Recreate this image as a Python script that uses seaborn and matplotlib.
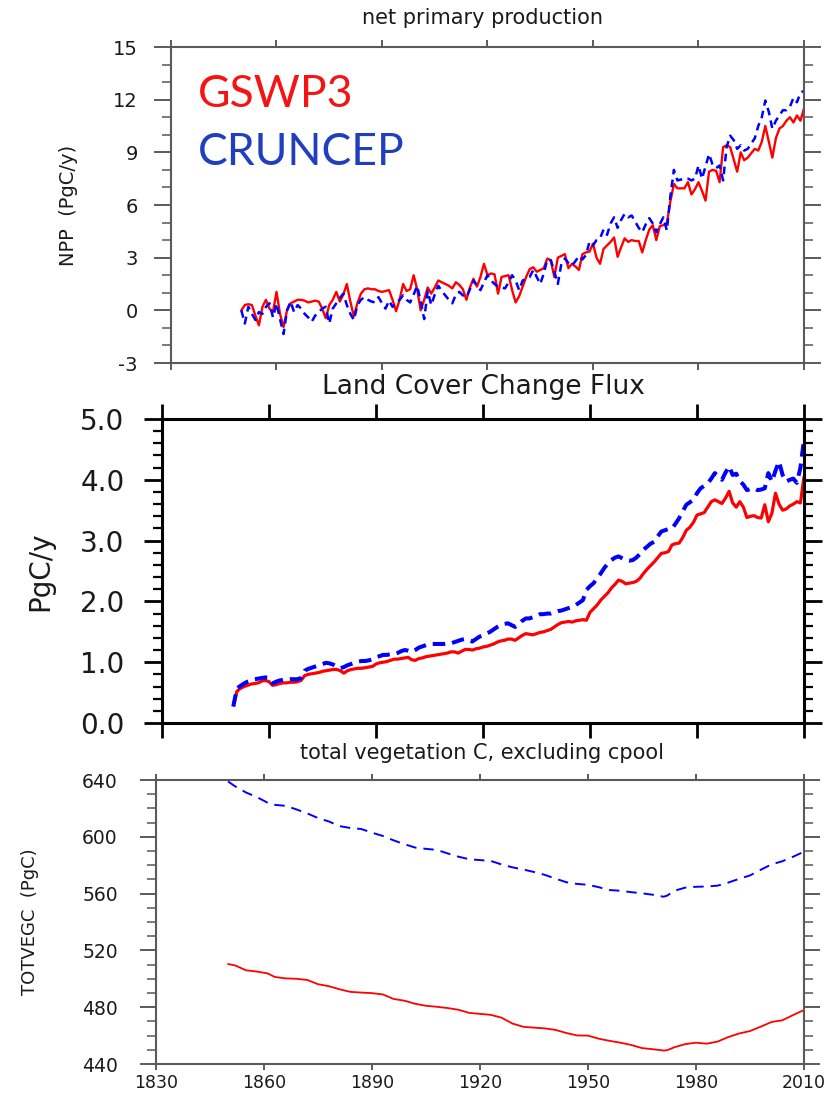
import matplotlib
matplotlib.use("Agg")
import matplotlib.pyplot as plt
from matplotlib.ticker import MultipleLocator, FormatStrFormatter
import pandas as pd
import seaborn as sns

# ---------------------------------------------------------------- data
years = list(range(1850, 2011))

# net primary production anomaly (PgC/y), annual 1850-2010
npp_gswp3 = [
    0.0, 0.3, 0.35, 0.3, -0.3, -0.85, 0.2, 0.6, 0.1, -0.1,
    1.05, -0.2, -0.95, 0.0, 0.4, 0.5, 0.6, 0.6, 0.55, 0.45,
    0.5, 0.55, 0.5, 0.1, -0.45, 0.3, 0.6, 1.05, 0.5, 0.9,
    1.5, 0.5, -0.35, 0.4, 0.95, 1.2, 1.25, 1.2, 1.2, 1.1,
    1.05, 1.1, 1.15, 0.6, -0.05, 0.6, 1.5, 1.1, 1.2, 2.0,
    1.2, 0.0, 0.6, 1.3, 0.95, 1.3, 1.7, 1.6, 1.5, 1.4,
    1.25, 1.6, 1.45, 1.2, 0.6, 1.3, 1.8, 1.35, 1.9, 2.65,
    2.0, 2.1, 2.05, 0.95, 1.9, 1.95, 2.0, 1.15, 0.45, 0.8,
    1.35, 1.9, 2.35, 2.45, 2.2, 2.3, 2.4, 2.95, 2.85, 1.9,
    3.0, 3.1, 3.2, 2.4, 2.65, 2.5, 2.3, 3.2, 3.3, 3.35,
    3.8, 3.0, 2.65, 3.5, 3.7, 3.9, 4.15, 3.05, 3.6, 4.1,
    3.9, 4.0, 3.95, 3.95, 3.3, 4.0, 4.6, 4.85, 4.0, 4.8,
    4.85, 4.95, 6.2, 7.2, 6.95, 6.95, 6.95, 7.3, 6.6, 6.9,
    7.3, 6.8, 6.25, 7.9, 8.0, 7.95, 7.3, 9.3, 9.4, 9.3,
    8.6, 7.9, 9.0, 8.55, 8.7, 8.95, 9.2, 9.1, 9.6, 10.5,
    9.6, 8.7, 9.8, 10.35, 10.5, 10.8, 11.0, 10.7, 11.1, 10.8,
    11.5,
]
npp_cruncep = [
    0.0, -0.75, 0.2, -0.2, -0.55, -0.1, -0.2, 0.2, 0.4, -0.4,
    0.4, -0.5, -1.35, 0.0, 0.5, -0.1, 0.3, 0.1, -0.2, -0.4,
    -0.65, -0.3, -0.1, 0.1, 0.2, -0.75, 0.1, 0.4, 0.7, 0.95,
    0.3, -0.2, -0.55, 0.3, 0.6, 0.75, 0.6, 0.5, 0.45, 0.75,
    0.4, 0.1, 0.55, 0.2, 0.45, 0.6, 0.85, 0.6, 0.45, 0.9,
    1.4, 0.5, -0.5, 1.1, 0.3, 0.9, 1.4, 1.1, 0.85, 0.6,
    0.4, 0.9, 1.05, 0.85, 0.75, 1.2, 1.7, 1.4, 1.15, 1.6,
    2.0, 1.7, 1.5, 1.35, 1.3, 1.25, 1.6, 2.0, 1.7, 1.15,
    1.7, 1.8, 1.9, 2.3, 1.9, 1.5, 2.1, 2.9, 2.85, 2.2,
    1.5, 2.65, 2.95, 2.7, 2.55, 2.8, 3.1, 2.9, 3.15, 3.9,
    3.7, 4.0, 4.1, 4.6, 4.3, 4.95, 5.3, 4.7, 5.15, 5.5,
    5.3, 5.4, 5.05, 4.7, 4.45, 4.9, 5.25, 4.95, 4.45, 4.9,
    5.3, 4.55, 6.5, 8.0, 7.4, 7.45, 7.5, 7.5, 7.4, 7.5,
    8.25, 7.5, 8.2, 8.9, 8.3, 8.1, 8.25, 7.4, 9.3, 9.95,
    9.7, 9.2, 9.4, 9.1, 9.2, 9.5, 9.8, 10.5, 11.0, 11.95,
    11.3, 10.35, 10.8, 11.1, 11.4, 11.4, 11.6, 12.1, 11.85, 12.4,
    12.5,
]

# land cover change flux (PgC/y), annual 1850-2010
lcc_gswp3 = [
    0.30, 0.52, 0.57, 0.60, 0.62, 0.64, 0.65, 0.66, 0.69, 0.70,
    0.68, 0.62, 0.63, 0.65, 0.66, 0.66, 0.67, 0.67, 0.68, 0.70,
    0.78, 0.80, 0.81, 0.82, 0.83, 0.85, 0.86, 0.87, 0.88, 0.88,
    0.86, 0.82, 0.86, 0.88, 0.89, 0.90, 0.90, 0.91, 0.92, 0.93,
    0.97, 0.99, 1.00, 1.01, 1.03, 1.05, 1.05, 1.06, 1.07, 1.08,
    1.04, 1.03, 1.06, 1.07, 1.09, 1.10, 1.11, 1.12, 1.13, 1.14,
    1.15, 1.17, 1.17, 1.15, 1.18, 1.21, 1.21, 1.20, 1.22, 1.23,
    1.25, 1.26, 1.28, 1.30, 1.33, 1.35, 1.36, 1.38, 1.38, 1.36,
    1.40, 1.44, 1.47, 1.46, 1.45, 1.47, 1.49, 1.50, 1.52, 1.54,
    1.58, 1.62, 1.65, 1.66, 1.67, 1.66, 1.68, 1.69, 1.70, 1.69,
    1.82, 1.88, 1.94, 2.02, 2.08, 2.14, 2.22, 2.28, 2.35, 2.33,
    2.29, 2.30, 2.31, 2.33, 2.38, 2.46, 2.53, 2.59, 2.65, 2.72,
    2.79, 2.80, 2.82, 2.93, 2.95, 2.96, 3.05, 3.17, 3.22, 3.30,
    3.42, 3.44, 3.46, 3.55, 3.64, 3.67, 3.64, 3.61, 3.70, 3.81,
    3.62, 3.55, 3.64, 3.55, 3.38, 3.40, 3.41, 3.38, 3.37, 3.59,
    3.31, 3.45, 3.78, 3.60, 3.50, 3.52, 3.57, 3.60, 3.64, 3.62,
    4.05,
]
lcc_cruncep = [
    0.27, 0.57, 0.61, 0.65, 0.68, 0.70, 0.72, 0.73, 0.74, 0.75,
    0.74, 0.65, 0.68, 0.70, 0.71, 0.71, 0.72, 0.72, 0.72, 0.74,
    0.86, 0.89, 0.91, 0.93, 0.95, 0.97, 0.99, 0.98, 0.96, 0.93,
    0.90, 0.92, 0.95, 0.97, 0.99, 1.01, 1.02, 1.02, 1.03, 1.05,
    1.08, 1.10, 1.12, 1.12, 1.13, 1.13, 1.15, 1.18, 1.20, 1.19,
    1.17, 1.20, 1.24, 1.26, 1.28, 1.30, 1.30, 1.30, 1.30, 1.30,
    1.31, 1.31, 1.33, 1.35, 1.37, 1.38, 1.36, 1.34, 1.38, 1.42,
    1.44, 1.47, 1.50, 1.54, 1.58, 1.61, 1.63, 1.64, 1.61, 1.58,
    1.62, 1.68, 1.72, 1.72, 1.74, 1.76, 1.79, 1.79, 1.80, 1.80,
    1.82, 1.84, 1.85, 1.87, 1.89, 1.91, 1.94, 1.98, 2.02, 2.19,
    2.25, 2.30, 2.38, 2.46, 2.55, 2.62, 2.68, 2.72, 2.74, 2.71,
    2.68, 2.67, 2.68, 2.72, 2.78, 2.85, 2.90, 2.95, 2.98, 3.07,
    3.15, 3.17, 3.19, 3.20, 3.28, 3.37, 3.48, 3.59, 3.63, 3.67,
    3.78, 3.86, 3.90, 3.94, 4.02, 4.11, 4.05, 4.00, 4.12, 4.22,
    4.08, 4.10, 3.98, 3.92, 3.83, 3.85, 3.86, 3.83, 3.84, 3.86,
    4.11, 3.97, 4.15, 4.30, 4.08, 3.97, 4.00, 4.02, 3.95, 4.20,
    4.66,
]

# total vegetation carbon (PgC)
vegc_years = [
    1850, 1852, 1855, 1858, 1861, 1863, 1866, 1869, 1872, 1875,
    1878, 1881, 1884, 1887, 1890, 1893, 1896, 1899, 1902, 1905,
    1908, 1911, 1914, 1917, 1920, 1923, 1926, 1929, 1932, 1935,
    1938, 1941, 1944, 1947, 1950, 1953, 1956, 1959, 1962, 1965,
    1968, 1971, 1972, 1974, 1977, 1980, 1983, 1986, 1989, 1992,
    1995, 1998, 2001, 2004, 2007, 2010,
]
vegc_gswp3 = [
    510.4, 509.4, 506.0, 505.1, 503.8, 501.3, 500.3, 500.0, 499.2, 496.2,
    494.8, 492.6, 490.8, 490.3, 489.9, 489.0, 485.8, 484.6, 482.4, 481.0,
    480.3, 479.4, 478.2, 476.0, 475.3, 474.6, 472.6, 468.5, 466.2, 465.6,
    465.1, 464.0, 461.8, 460.1, 460.0, 457.8, 456.3, 455.0, 453.4, 451.2,
    450.4, 449.5, 449.7, 451.8, 454.0, 455.0, 454.3, 455.8, 459.0, 461.5,
    463.2, 466.3, 469.6, 470.8, 474.5, 478.0,
]
vegc_cruncep = [
    639.0, 635.5, 631.2, 628.0, 624.0, 622.5, 621.8, 619.3, 616.5, 613.2,
    610.8, 607.5, 606.2, 605.5, 602.9, 600.6, 597.5, 594.8, 592.4, 591.5,
    590.8, 588.3, 586.0, 584.2, 583.6, 583.0, 580.5, 578.5, 577.0, 575.2,
    573.2, 570.5, 568.0, 566.8, 566.2, 564.5, 562.5, 562.0, 561.0, 560.2,
    559.2, 557.8, 558.6, 562.0, 564.2, 564.8, 565.0, 565.6, 567.8, 570.4,
    572.8, 576.8, 580.6, 582.8, 586.0, 589.5,
]

x_ticks = [1830, 1860, 1890, 1920, 1950, 1980, 2010]
series_names = ["GSWP3", "CRUNCEP"]

npp = pd.DataFrame({"year": years, "GSWP3": npp_gswp3, "CRUNCEP": npp_cruncep})
lcc = pd.DataFrame({"year": years, "GSWP3": lcc_gswp3, "CRUNCEP": lcc_cruncep})
vegc = pd.DataFrame({"year": vegc_years, "GSWP3": vegc_gswp3, "CRUNCEP": vegc_cruncep})

# ---------------------------------------------------------------- style
sns.set_theme(style="ticks")
plt.rcParams["font.family"] = ["DejaVu Sans"]
plt.rcParams["axes.unicode_minus"] = False
plt.rcParams["lines.scale_dashes"] = False

RED = "#ff0000"
BLUE = "#0000ff"
TXT = "#1a1a1a"

W, H = 840, 1096
fig = plt.figure(figsize=(W / 100, H / 100), dpi=100)
fig.patch.set_facecolor("white")


def panel(left, top, right, bottom):
    return fig.add_axes([left / W, 1 - bottom / H, (right - left) / W, (bottom - top) / H])


def frame(ax, color, spine_w, xlen, ylen, yminor, tick_w, size, ypad, xpad=5):
    ax.set_facecolor("white")
    for s in ax.spines.values():
        s.set_visible(True)
        s.set_color(color)
        s.set_linewidth(spine_w)
    ax.set_xticks(x_ticks)
    ax.tick_params(axis="x", which="major", direction="out", top=True, bottom=True,
                   length=xlen, width=tick_w, color=color, labelsize=size,
                   labelcolor=TXT, pad=xpad)
    ax.tick_params(axis="x", which="minor", top=False, bottom=False)
    ax.tick_params(axis="y", which="major", direction="out", left=True, right=True,
                   length=ylen, width=tick_w, color=color, labelsize=size,
                   labelcolor=TXT, pad=ypad)
    ax.tick_params(axis="y", which="minor", direction="out", left=True, right=True,
                   length=yminor, width=tick_w * 0.8, color=color)
    ax.set_xlim(1830, 2010)
    ax.set_xlabel("")


def draw(ax, df, lw_red, lw_blue, dash):
    sns.lineplot(data=df, x="year", y=series_names[0], ax=ax, color=RED,
                 lw=lw_red, errorbar=None)
    sns.lineplot(data=df, x="year", y=series_names[1], ax=ax, color=BLUE,
                 lw=lw_blue, linestyle=(0, dash), errorbar=None)


# ---------------------------------------------------------------- NPP
ax1 = panel(171, 47, 804, 363)
draw(ax1, npp, 1.7, 1.8, (5.5, 3.8))
frame(ax1, "#5a5a5a", 1.5, 5, 12, 6.5, 1.4, 14, 12)
ax1.set_ylim(-3, 15)
ax1.yaxis.set_major_locator(MultipleLocator(3))
ax1.yaxis.set_minor_locator(MultipleLocator(1))
ax1.tick_params(axis="x", labelbottom=False)
ax1.set_ylabel("NPP  (PgC/y)", fontsize=14, color=TXT, ha="center", va="center")
ax1.yaxis.set_label_coords(-0.1627, 0.5)
fig.text(483 / W, 1 - 24 / H, "net primary production", ha="center", va="baseline",
         fontsize=15, color=TXT)
ax1.text(0.043, 0.811, series_names[0], transform=ax1.transAxes, family="Lato",
         fontsize=32, color="#f51414", ha="left", va="baseline")
ax1.text(0.043, 0.627, series_names[1], transform=ax1.transAxes, family="Lato",
         fontsize=32, color="#1f3fbf", ha="left", va="baseline")

# ---------------------------------------------------------------- land cover change
ax2 = panel(162, 419, 804, 723)
draw(ax2, lcc, 2.3, 2.9, (9.0, 5.0))
frame(ax2, "black", 2.2, 11, 13, 6.5, 2.0, 20, 14)
ax2.set_ylim(0, 5)
ax2.yaxis.set_major_locator(MultipleLocator(1))
ax2.yaxis.set_minor_locator(MultipleLocator(0.2))
ax2.yaxis.set_major_formatter(FormatStrFormatter("%.1f"))
ax2.tick_params(axis="x", labelbottom=False)
ax2.set_ylabel("PgC/y", fontsize=20, color=TXT, ha="center", va="center")
ax2.yaxis.set_label_coords(-0.19, 0.5)
fig.text(483 / W, 1 - 394 / H, "Land Cover Change Flux", ha="center", va="baseline",
         fontsize=19, color=TXT)

# ---------------------------------------------------------------- vegetation carbon
ax3 = panel(156, 780, 804, 1064)
draw(ax3, vegc, 1.3, 1.4, (7.5, 5.0))
frame(ax3, "#5a5a5a", 1.5, 4.5, 11.5, 6.5, 1.4, 12.5, 16, xpad=2.5)
ax3.set_ylim(440, 640)
ax3.yaxis.set_major_locator(MultipleLocator(40))
ax3.yaxis.set_minor_locator(MultipleLocator(10))
ax3.tick_params(axis="y", labelsize=13.5)
ax3.set_ylabel("TOTVEGC  (PgC)", fontsize=13, color=TXT, ha="center", va="center")
ax3.yaxis.set_label_coords(-0.1944, 0.5)
fig.text(482 / W, 1 - 759 / H, "total vegetation C, excluding cpool", ha="center",
         va="baseline", fontsize=15, color=TXT)

fig.savefig("out.png", dpi=100, facecolor="white")
